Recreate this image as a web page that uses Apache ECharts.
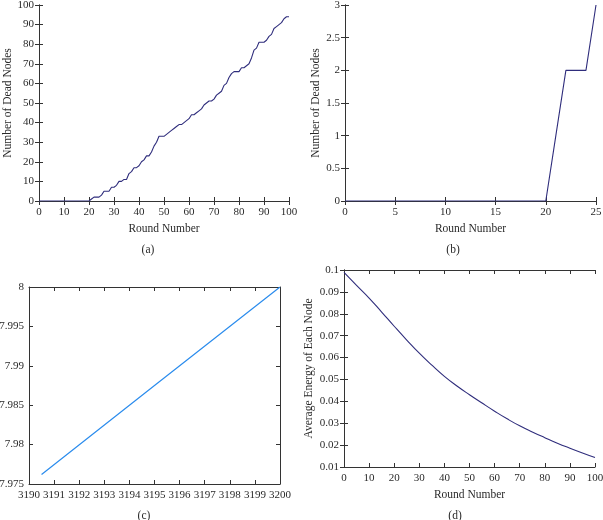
<!DOCTYPE html>
<html>
<head>
<meta charset="utf-8">
<script src="https://cdn.jsdelivr.net/npm/echarts@6/dist/echarts.min.js"></script>
<style>html,body{margin:0;padding:0;background:#fff}#c{width:603px;height:520px}</style>
</head>
<body>
<div id="c"></div>
<script>
// ---- data ----
const roundsA = [0,1,2,3,4,5,6,7,8,9,10,11,12,13,14,15,16,17,18,19,20,21,22,23,24,25,26,27,28,29,30,31,32,33,34,35,36,37,38,39,40,41,42,43,44,45,46,47,48,49,50,51,52,53,54,55,56,57,58,59,60,61,62,63,64,65,66,67,68,69,70,71,72,73,74,75,76,77,78,79,80,81,82,83,84,85,86,87,88,89,90,91,92,93,94,95,96,97,98,99,100];
const deadA = [0,0,0,0,0,0,0,0,0,0,0,0,0,0,0,0,0,0,0,0,0,
  1,2,2,2,3,5,5,5,7,7,
  8,10,10,11,11,14,15,17,17,18,
  20,21,23,23,25,28,30,33,33,33,
  34,35,36,37,38,39,39,40,41,42,
  44,44,45,46,47,49,50,51,51,52,
  54,55,56,59,60,63,65,66,66,66,
  68,68,69,70,73,77,78,81,81,81,
  82,84,85,88,89,90,91,93,94,94];
const roundsB = [0,1,2,3,4,5,6,7,8,9,10,11,12,13,14,15,16,17,18,19,20,21,22,23,24,25];
const deadB = [0,0,0,0,0,0,0,0,0,0,0,0,0,0,0,0,0,0,0,0,0,1,2,2,2,3];
const roundsC = [3190.5, 3195, 3200];
const valuesC = [7.9762, 7.9875, 8];
const roundsD = [0,5,10,15,20,25,30,35,40,45,50,55,60,65,70,75,80,85,90,95,100];
const energyD = [0.0989,0.093,0.0872,0.0808,0.0743,0.068,0.0620,0.0565,0.0514,0.0470,0.0430,0.0392,0.0355,0.0320,0.0288,0.0260,0.0234,0.0209,0.0186,0.0164,0.0143];
const captions = ['(a)','(b)','(c)','(d)'];
const xNameA = 'Round Number';
const yNameDead = 'Number of Dead Nodes';
const yNameEnergy = 'Average Energy of Each Node';

// ---- chart ----
const FONT = 'Liberation Serif';
const TXT = '#2a2a2a';
const AX = '#333';
const NAVY = '#2f2d7c';
const BLUE = '#2b8ced';

function zip(xs, ys){ return xs.map((x,i)=>[x, ys[i]]); }
function plain(v){ return String(+v.toFixed(6)); }

const grids = [
  {left:39, top:5, width:250, height:196, outerBoundsMode:'none', containLabel:false},
  {left:345, top:5, width:251, height:196, outerBoundsMode:'none', containLabel:false},
  {left:29, top:287, width:251, height:197, outerBoundsMode:'none', containLabel:false},
  {left:344, top:270, width:251, height:197, outerBoundsMode:'none', containLabel:false}
];

const xSpecs = [
  {min:0, max:100, interval:10, name:xNameA},
  {min:0, max:25, interval:5, name:xNameA},
  {min:3190, max:3200, interval:1, name:''},
  {min:0, max:100, interval:10, name:xNameA}
];
const ySpecs = [
  {min:0, max:100, interval:10, name:yNameDead, gap:24},
  {min:0, max:3, interval:0.5, name:yNameDead, gap:23},
  {min:7.975, max:8, interval:0.005, name:'', gap:0},
  {min:0.01, max:0.1, interval:0.01, name:yNameEnergy, gap:29}
];

const xAxis = [], yAxis = [];
xSpecs.forEach((s,i)=>{
  xAxis.push({type:'value', gridIndex:i, position:'bottom', min:s.min, max:s.max, interval:s.interval,
    name:s.name, nameLocation:'middle', nameGap:22,
    nameTextStyle:{fontFamily:FONT, fontSize:11.5, color:TXT},
    axisLine:{show:true, lineStyle:{color:AX, width:1}},
    axisTick:{show:true, inside:true, length:4, lineStyle:{color:AX}},
    axisLabel:{fontFamily:FONT, fontSize:11, color:TXT, margin:6, showMinLabel:true, showMaxLabel:true, formatter:plain},
    splitLine:{show:false}});
  xAxis.push({type:'value', gridIndex:i, position:'top', min:s.min, max:s.max, interval:s.interval,
    axisLine:{show:true, lineStyle:{color:AX, width:1}},
    axisTick:{show:true, inside:true, length:4, lineStyle:{color:AX}},
    axisLabel:{show:false}, splitLine:{show:false}});
});
ySpecs.forEach((s,i)=>{
  yAxis.push({type:'value', gridIndex:i, position:'left', min:s.min, max:s.max, interval:s.interval,
    name:s.name, nameLocation:'middle', nameGap:s.gap,
    nameTextStyle:{fontFamily:FONT, fontSize:11.5, color:TXT},
    axisLine:{show:true, lineStyle:{color:AX, width:1}},
    axisTick:{show:true, inside:true, length:4, lineStyle:{color:AX}},
    axisLabel:{fontFamily:FONT, fontSize:11, color:TXT, margin:5, showMinLabel:true, showMaxLabel:true, formatter:plain},
    splitLine:{show:false}});
  yAxis.push({type:'value', gridIndex:i, position:'right', min:s.min, max:s.max, interval:s.interval,
    axisLine:{show:true, lineStyle:{color:AX, width:1}},
    axisTick:{show:true, inside:true, length:4, lineStyle:{color:AX}},
    axisLabel:{show:false}, splitLine:{show:false}});
});

const series = [
  {type:'line', xAxisIndex:0, yAxisIndex:0, data:zip(roundsA, deadA), showSymbol:false, lineStyle:{color:NAVY, width:1.1}},
  {type:'line', xAxisIndex:2, yAxisIndex:2, data:zip(roundsB, deadB), showSymbol:false, lineStyle:{color:NAVY, width:1.1}},
  {type:'line', xAxisIndex:4, yAxisIndex:4, data:zip(roundsC, valuesC), showSymbol:false, lineStyle:{color:BLUE, width:1.2}},
  {type:'line', xAxisIndex:6, yAxisIndex:6, data:zip(roundsD, energyD), showSymbol:false, smooth:true, lineStyle:{color:NAVY, width:1.1}}
];

const capPos = [[148,250],[453,250],[144,516],[455,516]];
const graphic = captions.map((t,i)=>({type:'text', x:capPos[i][0], y:capPos[i][1],
  style:{text:t, fontFamily:FONT, fontSize:11.5, fill:TXT, textAlign:'center', textVerticalAlign:'middle'}}));

const chart = echarts.init(document.getElementById('c'), null, {renderer:'canvas'});
chart.setOption({animation:false, backgroundColor:'#fff', grid:grids, xAxis, yAxis, series, graphic});
</script>
</body>
</html>
